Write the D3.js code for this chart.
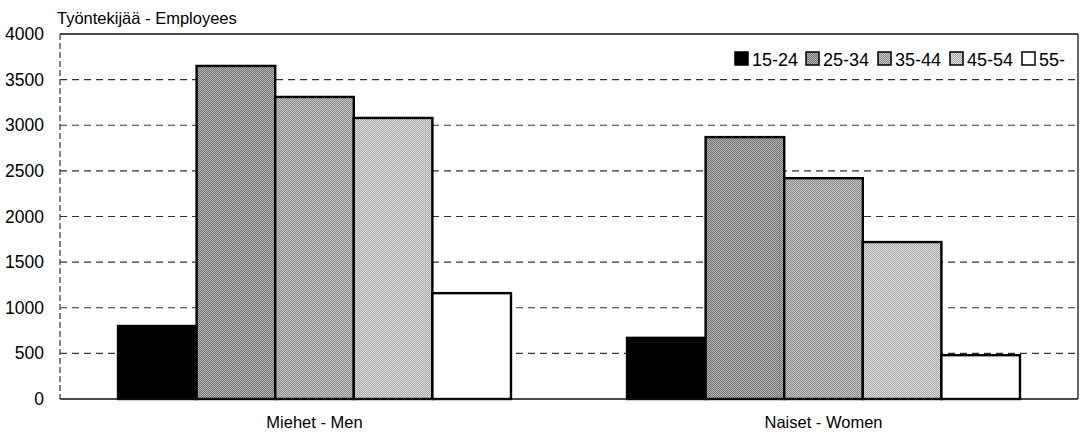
<!DOCTYPE html>
<html>
<head>
<meta charset="utf-8">
<script src="https://cdn.jsdelivr.net/npm/d3@7/dist/d3.min.js"></script>
<style>
  html, body { margin: 0; padding: 0; background: #fff; }
  svg { display: block; font-family: "Liberation Sans", Arial, sans-serif; }
</style>
</head>
<body>
<svg id="chart" width="1081" height="439"></svg>
<script>
// Employees by age group and sex
const categories = ["Miehet - Men", "Naiset - Women"];
const ageGroups = ["15-24", "25-34", "35-44", "45-54", "55-"];
const men   = [800, 3650, 3310, 3080, 1160];
const women = [670, 2870, 2420, 1720, 480];
const yTicks = [0, 500, 1000, 1500, 2000, 2500, 3000, 3500, 4000];
const yTitle = "Työntekijää - Employees";

const seriesByCategory = [men, women];

const svg = d3.select("#chart");
const margin = { left: 60, right: 3, top: 34, bottom: 40 };
const W = 1081, H = 439;
const x0 = margin.left, x1 = W - margin.right;
const yTop = margin.top, yBot = H - margin.bottom;

// Halftone-like fills for the grey groups (2px checker)
const defs = svg.append("defs");
const fills = [
  { id: "solid-black", a: "#000", b: "#000" },
  { id: "ht-dark",  a: "#6e6e6e", b: "#b8b8b8" },
  { id: "ht-mid",   a: "#878787", b: "#cacaca" },
  { id: "ht-light", a: "#a4a4a4", b: "#e0e0e0" },
  { id: "solid-white", a: "#fff", b: "#fff" }
];
fills.forEach(f => {
  const p = defs.append("pattern")
    .attr("id", f.id).attr("patternUnits", "userSpaceOnUse")
    .attr("width", 2).attr("height", 2);
  p.append("rect").attr("width", 2).attr("height", 2).attr("fill", f.a);
  p.append("rect").attr("x", 0).attr("y", 0).attr("width", 1).attr("height", 1).attr("fill", f.b);
  p.append("rect").attr("x", 1).attr("y", 1).attr("width", 1).attr("height", 1).attr("fill", f.b);
});
const fillFor = d3.scaleOrdinal().domain(ageGroups).range(fills.map(f => `url(#${f.id})`));

const y = d3.scaleLinear().domain([0, 4000]).range([yBot, yTop]);
const xCat = d3.scaleBand().domain(categories).range([x0, x1]).paddingInner(0.228).paddingOuter(0.114);
const xSer = d3.scaleBand().domain(ageGroups).range([0, xCat.bandwidth()]).padding(0);

// Dashed grid lines
svg.append("g").selectAll("line")
  .data(yTicks.filter(t => t > 0 && t < 4000))
  .join("line")
  .attr("x1", x0).attr("x2", x1)
  .attr("y1", d => y(d)).attr("y2", d => y(d))
  .attr("stroke", "#333").attr("stroke-width", 1.2)
  .attr("stroke-dasharray", "7,5");

// Plot frame: solid top/right/bottom, dashed left
svg.append("line").attr("x1", x0).attr("x2", x1).attr("y1", yTop).attr("y2", yTop)
  .attr("stroke", "#111").attr("stroke-width", 1.3);
svg.append("line").attr("x1", x1).attr("x2", x1).attr("y1", yTop).attr("y2", yBot)
  .attr("stroke", "#111").attr("stroke-width", 1.3);
svg.append("line").attr("x1", x0).attr("x2", x0).attr("y1", yTop).attr("y2", yBot)
  .attr("stroke", "#333").attr("stroke-width", 1.2).attr("stroke-dasharray", "6,3");

// Y axis labels
const yAxis = d3.axisLeft(y).tickValues(yTicks).tickSize(0).tickPadding(16).tickFormat(d3.format("d"));
const gy = svg.append("g").attr("transform", `translate(${x0},0)`).call(yAxis);
gy.select(".domain").remove();
gy.selectAll("text").attr("font-size", 17.5).attr("fill", "#000")
  .attr("font-family", "'Liberation Sans', Arial, sans-serif");

// Bars
const groups = svg.append("g").selectAll("g")
  .data(categories)
  .join("g")
  .attr("transform", d => `translate(${xCat(d)},0)`);

groups.selectAll("rect")
  .data((c, i) => ageGroups.map((a, j) => ({ age: a, value: seriesByCategory[i][j] })))
  .join("rect")
  .attr("x", d => xSer(d.age))
  .attr("y", d => y(d.value))
  .attr("width", xSer.bandwidth())
  .attr("height", d => yBot - y(d.value))
  .attr("fill", d => fillFor(d.age))
  .attr("stroke", "#000")
  .attr("stroke-width", 2.4);

// Baseline
svg.append("line").attr("x1", x0).attr("x2", x1).attr("y1", yBot).attr("y2", yBot)
  .attr("stroke", "#111").attr("stroke-width", 1.5);

// Category axis labels
const xAxis = d3.axisBottom(xCat).tickSize(0).tickPadding(17);
const gx = svg.append("g").attr("transform", `translate(0,${yBot})`).call(xAxis);
gx.select(".domain").remove();
gx.selectAll("text").attr("font-size", 16.5).attr("fill", "#000")
  .attr("font-family", "'Liberation Sans', Arial, sans-serif");

// Axis title
svg.append("text").attr("x", 57).attr("y", 24)
  .attr("font-size", 16.5).attr("fill", "#000").text(yTitle);

// Legend
const legendX = [735, 806, 878, 950, 1022];
const legend = svg.append("g").selectAll("g")
  .data(ageGroups)
  .join("g")
  .attr("transform", (d, i) => `translate(${legendX[i]},52)`);
legend.append("rect")
  .attr("width", 13).attr("height", 13)
  .attr("fill", d => fillFor(d))
  .attr("stroke", "#000").attr("stroke-width", 1.5);
legend.append("text")
  .attr("x", 17).attr("y", 13.5)
  .attr("font-size", 18).attr("fill", "#000")
  .text(d => d);
</script>
</body>
</html>
